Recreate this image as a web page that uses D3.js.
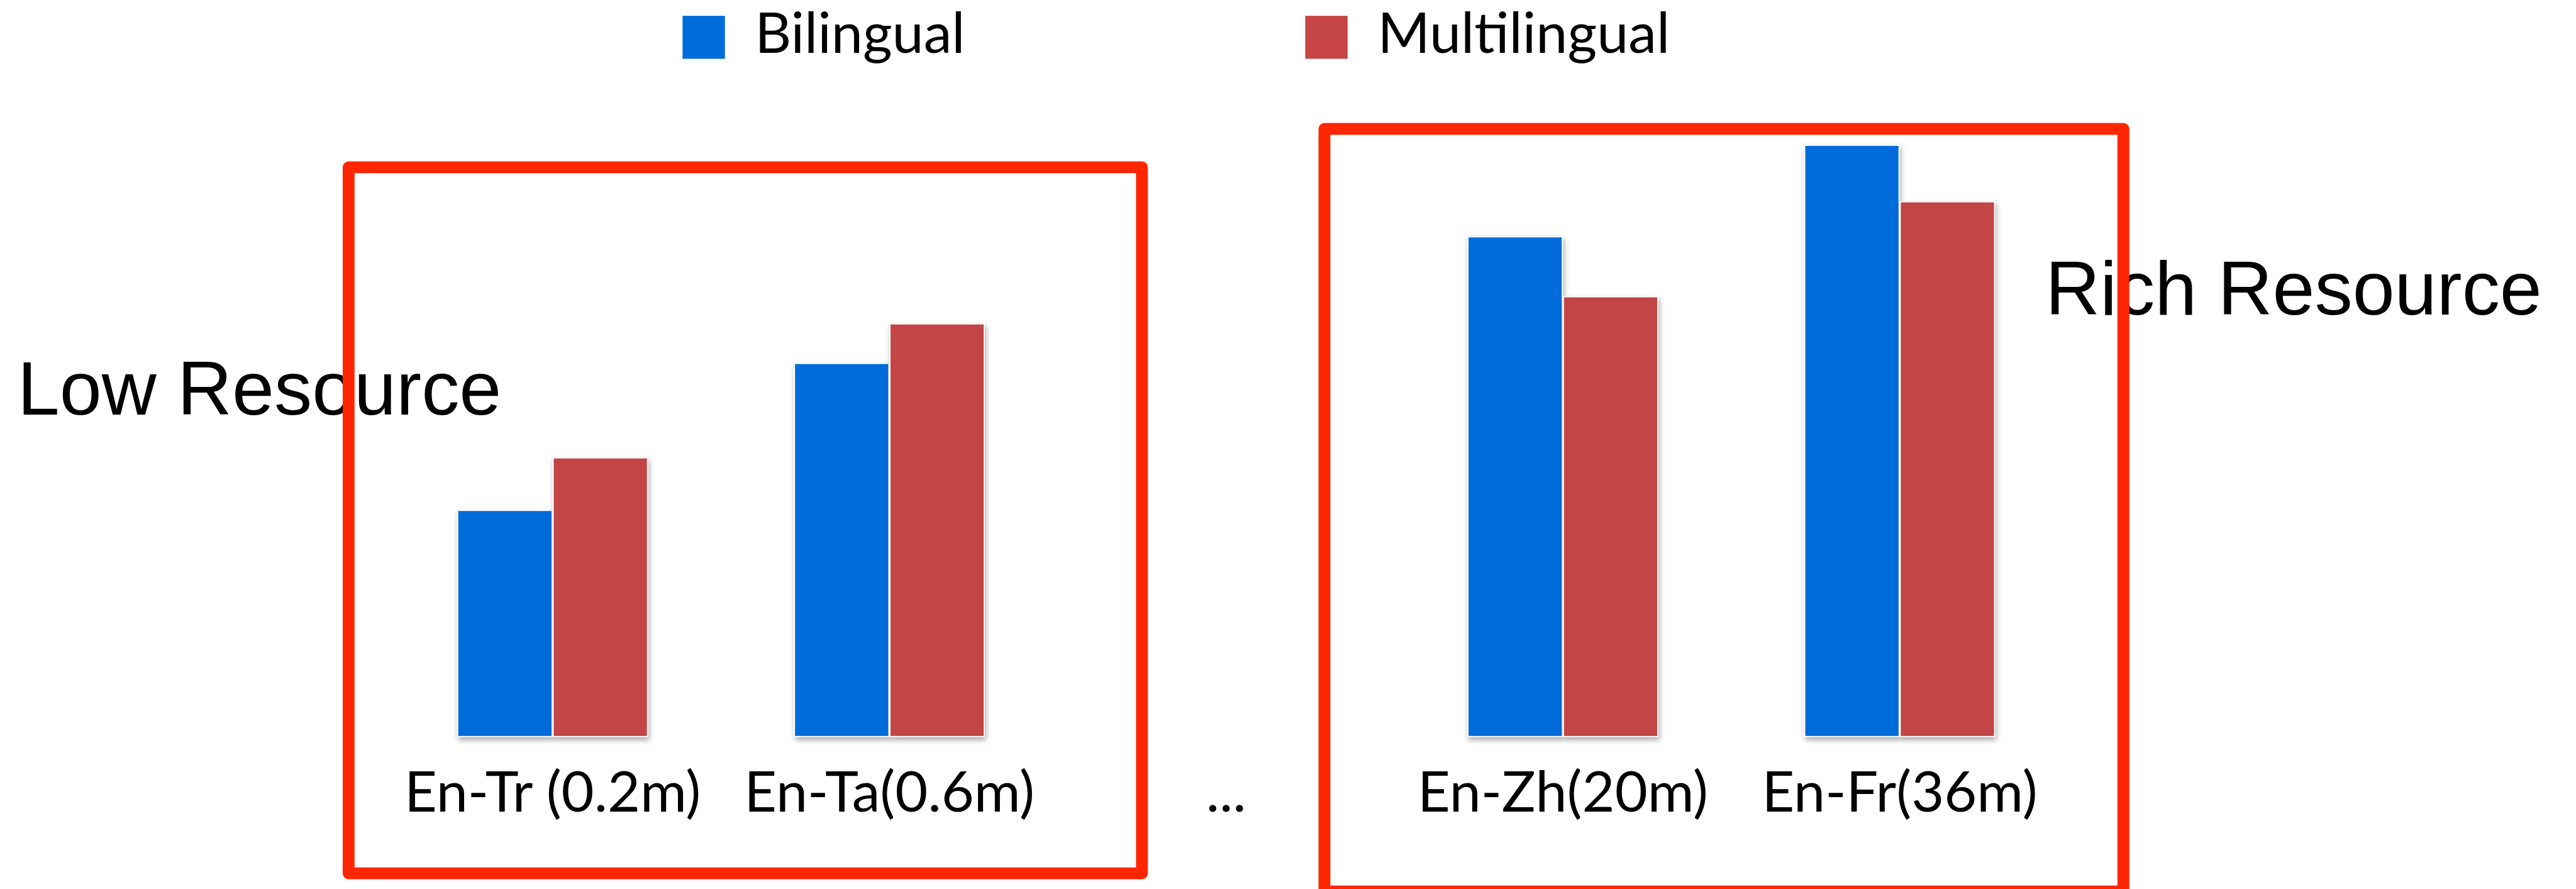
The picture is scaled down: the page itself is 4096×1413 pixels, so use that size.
<!DOCTYPE html>
<html>
<head>
<meta charset="utf-8">
<script src="https://cdn.jsdelivr.net/npm/d3@7"></script>
<style>
  html, body { margin: 0; padding: 0; background: #fff; }
  svg { display: block; }
</style>
</head>
<body>
<svg id="chart" width="4096" height="1413"></svg>
<script>
// Language pairs (training size in parentheses); "..." is a spacer slot without bars
const categories = ["En-Tr (0.2m)", "En-Ta(0.6m)", "...", "En-Zh(20m)", "En-Fr(36m)"];
const series = ["Bilingual", "Multilingual"];
const bilingual = [4.0, 6.6, null, 8.84, 10.46];
const multilingual = [4.93, 7.3, null, 7.78, 9.46];
const colors = ["#006cdb", "#c44544"];
const groups = [
  { name: "Low Resource", members: ["En-Tr (0.2m)", "En-Ta(0.6m)"] },
  { name: "Rich Resource", members: ["En-Zh(20m)", "En-Fr(36m)"] }
];

// Drawing is laid out on a 4559 x 1573 canvas and scaled to the window
const W = 4559, H = 1573;
const k = 4096 / W;

const svg = d3.select("#chart");
const defs = svg.append("defs");
const shadow = defs.append("filter").attr("id", "barShadow")
  .attr("x", "-10%").attr("y", "-10%").attr("width", "130%").attr("height", "130%");
shadow.append("feDropShadow")
  .attr("dx", 2).attr("dy", 5).attr("stdDeviation", 5)
  .attr("flood-color", "#000").attr("flood-opacity", 0.35);

const root = svg.append("g").attr("transform", `scale(${k})`);

const x = d3.scaleBand().domain(categories).range([680, 3660]).paddingInner(0).paddingOuter(0);
const xs = d3.scaleBand().domain(series).range([-168, 168]).paddingInner(0.012);
const y = d3.scaleLinear().domain([0, 11]).range([1303, 203]);
const color = d3.scaleOrdinal().domain(series).range(colors);

const rows = categories.map((c, i) => ({ cat: c, values: [bilingual[i], multilingual[i]] }));

// Bars
const gBars = root.append("g");
rows.forEach(r => {
  const cx = x(r.cat) + x.bandwidth() / 2;
  series.forEach((s, j) => {
    const v = r.values[j];
    if (v == null) return;
    gBars.append("rect")
      .attr("x", cx + xs(s))
      .attr("y", y(v))
      .attr("width", xs.bandwidth())
      .attr("height", y(0) - y(v))
      .attr("fill", color(s))
      .attr("stroke", "#ffffff")
      .attr("stroke-width", 2)
      .attr("filter", "url(#barShadow)");
  });
});

// Category labels
root.append("g").selectAll("text").data(categories).join("text")
  .attr("x", d => x(d) + x.bandwidth() / 2)
  .attr("y", 1436)
  .attr("text-anchor", "middle")
  .attr("font-family", "Lato, 'Open Sans', sans-serif")
  .attr("font-size", 100)
  .attr("fill", "#000")
  .text(d => d);

// Legend
const legendX = [1208, 2310];
const lg = root.append("g");
series.forEach((s, j) => {
  lg.append("rect").attr("x", legendX[j]).attr("y", 28).attr("width", 75).attr("height", 76)
    .attr("fill", color(s));
  lg.append("text").attr("x", legendX[j] + 128).attr("y", 94)
    .attr("font-family", "Lato, 'Open Sans', sans-serif")
    .attr("font-size", 100).attr("fill", "#000").text(s);
});

// Group titles
root.append("text").attr("x", 31).attr("y", 734)
  .attr("font-family", "'Liberation Sans', Arial, sans-serif")
  .attr("font-size", 134).attr("fill", "#000").text(groups[0].name);
root.append("text").attr("x", 3620).attr("y", 557)
  .attr("font-family", "'Liberation Sans', Arial, sans-serif")
  .attr("font-size", 134).attr("fill", "#000").text(groups[1].name);

// Highlight frames around each resource group
const frames = [
  { x0: 617, x1: 2021, y0: 296, y1: 1545 },
  { x0: 2344, x1: 3758, y0: 228, y1: 1577 }
];
root.append("g").selectAll("rect").data(frames).join("rect")
  .attr("x", d => d.x0).attr("y", d => d.y0)
  .attr("width", d => d.x1 - d.x0).attr("height", d => d.y1 - d.y0)
  .attr("fill", "none")
  .attr("stroke", "#ff2600")
  .attr("stroke-width", 21)
  .attr("stroke-linejoin", "round");
</script>
</body>
</html>
